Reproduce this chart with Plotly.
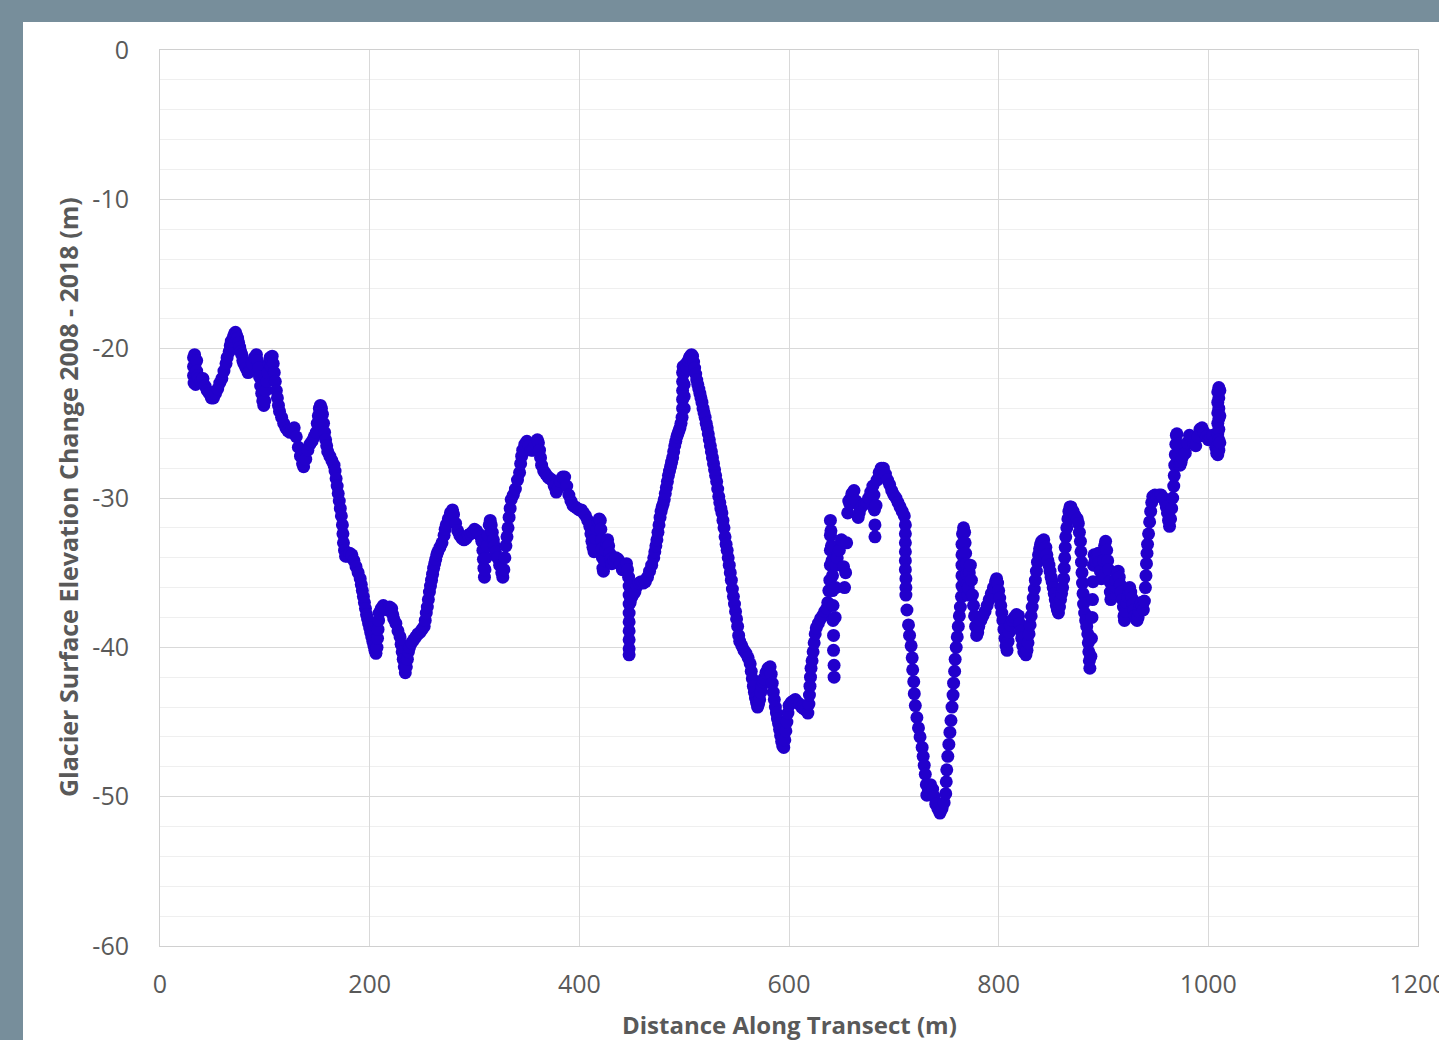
import plotly.graph_objects as go

# ---- data (distance m, elevation change m) ----
seg_a = [(32,-20.6),(32,-21.2),(32,-21.8),(32.5,-22.3),(33,-20.4),(33.5,-21.0),(34,-21.6),(34,-22.4),
 (35,-20.8),(35,-21.5),(36,-21.8),(37,-22.0),(39,-22.2),(41,-22.0),(43,-22.5),(45,-22.8),(47,-23.0),
 (49,-23.3),(51,-23.3),(53,-23.0),(55,-22.7),(57,-22.3),(59,-22.0),(61,-21.5),(63,-21.0),(64,-20.6),
 (66,-20.2),(67,-19.8),(68,-19.5),(70,-19.2),(71,-19.0),(72,-18.9),(73,-19.1),(74,-19.3),(75,-19.6),
 (76,-19.9),(77,-20.2),(78,-20.4),(79,-20.8),(80,-21.0),(82,-21.3),(84,-21.6),(86,-21.5),(88,-21.0),
 (90,-20.6),(92,-20.4),(93,-20.8),(94,-21.3),(95,-21.9),(96,-22.5),(97,-23.0),(98,-23.5),(99,-23.8),
 (100,-23.5),(101,-22.8),(102,-22.2),(103,-21.6),(104,-21.0),(105,-20.6),(106,-21.2),(107,-20.5),
 (108,-21.0),(109,-21.6),(110,-22.2),(111,-22.8),(112,-23.3),(113,-23.8),(114,-24.2),(116,-24.6),
 (118,-25.0),(120,-25.3),(122,-25.5),(124,-25.6),(126,-25.4),(128,-25.3),(130,-25.9),(132,-26.6),
 (134,-27.2),(136,-27.7),(137,-27.9),(139,-27.4),(141,-26.8),(143,-26.4),(145,-26.2),(147,-25.9),
 (149,-25.6),(150,-25.0),(151,-24.5),(152,-24.0),(153,-23.8),(154,-24.0),(155,-24.4),(156,-25.0),
 (157,-25.6),(158,-26.1),(159,-26.5),(160,-26.9),(162,-27.2),(164,-27.5),(166,-27.8),(167,-28.2),
 (168,-28.7),(169,-29.2),(170,-29.7),(171,-30.2),(172,-30.7),(173,-31.2),(174,-31.8),(174.5,-32.4),
 (175,-33.0),(176,-33.5),(177,-33.9),(179,-33.9),(181,-33.7),(183,-33.8),(185,-34.2),(187,-34.6),
 (189,-35.0),(191,-35.4),(192,-35.8),(193,-36.2),(194,-36.6),(195,-37.0),(196,-37.4),(197,-37.8),
 (198,-38.1),(199,-38.4)]

seg_b = [(200,-38.7),(201,-39.0),(202,-39.3),(203,-39.6),(204,-39.9),(205,-40.2),(206,-40.4),(207,-40.0),
 (207.5,-39.4),(208,-38.8),(208.5,-38.2),(209,-37.7),(211,-37.4),(213,-37.2),(215,-37.4),(217,-37.5),
 (219,-37.3),(221,-37.4),(222,-37.8),(223,-38.1),(225,-38.4),(227,-38.9),(229,-39.3),(230,-39.8),
 (231,-40.3),(232,-40.8),(233,-41.3),(234,-41.7),(235,-41.3),(236,-40.8),(237,-40.3),(238,-40.0),
 (240,-39.7),(242,-39.5),(244,-39.3),(246,-39.1),(248,-39.0),(250,-38.8),(252,-38.6),(253,-38.2),
 (254,-37.7),(255,-37.3),(256,-36.8),(257,-36.3),(258,-35.9),(259,-35.5),(260,-35.1),(261,-34.7),
 (262,-34.4),(263,-34.1),(264,-33.8),(265,-33.6),(267,-33.3),(269,-33.0),(271,-32.5),(272,-32.1),
 (273,-31.8),(275,-31.4),(277,-31.0),(279,-30.8),(280,-31.1),(282,-31.7),(284,-32.2),(286,-32.5),
 (288,-32.7),(290,-32.8),(292,-32.7),(294,-32.5),(296,-32.4),(298,-32.3),(300,-32.1),(302,-32.2),
 (304,-32.4),(306,-32.6),(307,-32.9),(308,-33.5),(308.5,-34.1),(309,-34.7),(309.5,-35.3),(310,-34.8),
 (311,-34.0),(312,-33.2),(313,-32.5),(314,-31.8),(315,-31.5),(316,-31.8),(317,-32.3),(318,-32.8),
 (319,-33.2),(320,-33.6),(322,-34.0),(324,-34.5),(326,-35.0),(327,-35.3),(328,-34.8),(329,-34.0),
 (330,-33.2),(331,-32.6),(332,-32.0),(333,-31.3),(334,-30.7),(335,-30.1),(337,-29.8),(339,-29.4),
 (341,-28.8),(343,-28.3),(344,-27.7),(345,-27.2),(346,-26.8),(348,-26.4),(350,-26.2),(352,-26.5),
 (354,-26.8),(356,-26.8),(358,-26.4),(360,-26.1),(361,-26.3),(362,-26.8),(363,-27.3),(364,-27.8),
 (366,-28.2),(368,-28.4),(370,-28.6),(372,-28.7),(374,-28.8),(376,-29.2),(378,-29.6),(380,-29.3),
 (382,-28.9),(384,-28.6),(386,-28.6),(388,-29.2),(390,-29.8),(392,-30.2),(394,-30.5),(396,-30.6),
 (398,-30.7)]

seg_c = [(400,-30.8),(402,-30.8),(404,-31.0),(406,-31.2),(408,-31.5),(410,-31.9),(411,-32.4),(412,-32.9),
 (413,-33.3),(414,-33.6),(415,-33.3),(416,-32.7),(417,-32.1),(418,-31.6),(419,-31.4),(420,-31.5),
 (420.5,-32.1),(421,-32.8),(421.5,-33.4),(422,-34.0),(422.5,-34.7),(423,-34.9),(424,-34.2),(425,-33.5),
 (426,-33.0),(427,-32.8),(428,-33.2),(429,-33.7),(430,-34.1),(431,-34.4),(433,-34.2),(435,-34.0),
 (437,-34.1),(439,-34.4),(441,-34.8),(443,-34.6),(445,-34.4),(446,-34.8),(447,-35.3),(447.5,-35.9),
 (447.5,-36.5),(447.5,-37.1),(447.5,-37.7),(447.5,-38.3),(447.5,-38.9),(447.5,-39.5),(447.5,-40.1),
 (447.5,-40.5),(448.5,-37.0),(449.5,-36.7),(451,-36.5),(453,-36.3),(455,-35.9),(457,-35.7),(459,-35.6),
 (461,-35.7),(463,-35.6),(465,-35.3),(467,-34.9),(469,-34.5),(471,-34.0),(472,-33.6),(473,-33.2),
 (474,-32.8),(475,-32.3),(476,-31.8),(477,-31.3),(478,-30.9),(479,-30.6),(480,-30.4),(481,-30.1),
 (482,-29.7),(483,-29.3),(484,-28.9),(485,-28.5),(486,-28.2),(487,-27.9),(488,-27.6),(489,-27.3),
 (490,-26.9),(491,-26.5),(492,-26.2),(493,-25.9),(494,-25.7),(495,-25.5),(496,-25.3),(497,-25.0),
 (498,-24.6),(498.5,-24.0),(498.5,-23.4),(498.5,-22.8),(498.5,-22.2),(498.5,-21.6),(499,-21.2),
 (500,-21.6),(500,-22.4),(500,-23.2),(500,-24.0),(501,-21.4),(502,-21.0),(503,-21.3),(504,-20.8),
 (505,-20.6),(506,-20.5),(507,-20.4),(508,-20.5),(509,-20.9),(510,-21.3),(511,-21.7),(512,-22.1),
 (513,-22.4),(514,-22.7),(515,-23.0),(516,-23.3),(517,-23.6),(518,-24.0),(519,-24.3),(520,-24.6),
 (521,-25.0),(522,-25.3),(523,-25.7),(524,-26.1),(525,-26.5),(526,-26.9),(527,-27.3),(528,-27.7),
 (529,-28.1),(530,-28.5),(531,-28.9),(532,-29.4),(533,-29.9),(534,-30.3),(535,-30.7),(536,-31.0),
 (537,-31.5),(538,-32.0),(539,-32.6),(540,-33.1),(541,-33.5),(542,-34.0),(543,-34.5),(544,-35.0),
 (545,-35.5),(546,-36.1),(547,-36.6),(548,-37.1),(549,-37.6),(550,-38.1),(551,-38.6),(552,-39.2),
 (553,-39.6),(555,-39.9),(557,-40.2),(559,-40.4),(561,-40.7),(563,-41.1),(564,-41.6),(565,-42.1),
 (566,-42.6),(567,-43.0),(568,-43.4),(569,-43.7),(570,-44.0),(571,-43.8),(572,-43.5),(573,-43.0),
 (574,-42.6),(575,-42.3),(576,-42.1),(578,-41.7),(580,-41.4),(582,-41.3),(583,-41.8),(584,-42.4),
 (585,-43.0),(586,-43.5),(587,-44.0),(588,-44.4),(589,-44.8),(590,-45.1),(591,-45.5),(592,-45.9),
 (593,-46.3),(594,-46.6),(595,-46.7),(596,-46.2),(597,-45.6),(598,-45.0),(599,-44.4)]

seg_d = [(600,-43.9),(602,-43.7),(604,-43.6),(606,-43.5),(608,-43.7),(610,-43.8),(612,-44.0),(614,-44.1),
 (616,-44.2),(618,-44.4),(619,-43.8),(619.5,-43.2),(620,-42.6),(620.5,-42.0),(621,-41.4),(622,-40.9),
 (623,-40.3),(624,-39.7),(625,-39.1),(626,-38.7),(628,-38.4),(630,-38.1),(632,-37.9),(634,-37.6),
 (636,-37.4),(637,-37.0),(638,-36.2),(639,-35.5),(639.5,-34.5),(639.5,-33.5),(639.5,-32.5),(639.5,-31.5),
 (640,-32.2),(640.5,-33.2),(641,-34.2),(641.5,-35.2),(641.5,-36.2),(642,-37.2),(642,-38.2),(642.5,-39.2),
 (642.5,-40.2),(643,-41.2),(643,-42.0),(644,-38.0),(644.5,-36.0),(645,-34.5),(646,-34.0),(648,-33.5),
 (650,-32.8),(652,-34.6),(653,-36.0),(654,-35.0),(655,-33.0),(656,-31.0),(657,-30.2),(658,-30.4),
 (659,-30.0),(660,-29.7),(662,-29.5),(664,-30.2),(666,-31.3),(667,-31.0),(668,-30.7),(670,-30.5),
 (672,-30.4),(674,-30.3),(676,-30.0),(678,-29.6),(680,-29.2),(681,-29.8),(681.5,-30.8),(682,-31.8),
 (682,-32.6),(683,-30.5),(684,-28.8),(686,-28.3),(688,-28.0),(690,-28.0),(692,-28.4),(694,-28.8),
 (696,-29.1),(698,-29.5),(700,-29.8),(702,-30.0),(704,-30.3),(706,-30.6),(708,-30.9),(710,-31.2),
 (711,-31.8),(711,-32.4),(711,-33.0),(711,-33.6),(711,-34.2),(711,-34.8),(711.5,-35.4),(711.5,-36.0),
 (711.5,-36.5),(712.5,-37.5),(714,-38.5),(715,-39.2),(716.5,-39.9),(717.5,-40.7),(718,-41.5),
 (719,-42.3),(719.5,-43.1),(720.5,-43.9),(722,-44.7),(723.5,-45.4),(725,-46.0),(727,-46.7),(728,-47.3),
 (729,-47.9),(730,-48.5),(731,-49.2),(731.5,-49.9),(733,-49.6),(735,-49.2),(737,-49.5),(738.5,-50.0),
 (740,-50.5),(742,-50.8),(744,-51.1),(746,-50.8),(748,-50.4),(749.5,-49.8),(750,-49.0),(750.5,-48.2),
 (751.5,-47.3),(752.5,-46.5),(753.5,-45.7),(754.5,-44.9),(755.5,-44.0),(756.5,-43.2),(757,-42.4),
 (758,-41.6),(758.5,-40.8),(759.5,-40.0),(760.5,-39.3),(761.5,-38.6),(762.5,-37.9),(763.5,-37.3),
 (764.5,-36.6),(765,-35.9),(765,-35.2),(765,-34.5),(765,-33.8),(765,-33.1),(765.5,-32.4),(766.5,-32.0),
 (767.5,-32.3),(768,-33.0),(768.5,-33.7),(769,-34.4),(769.5,-35.1),(770,-35.8),(770.5,-36.5),
 (771,-36.0),(772,-35.0),(773,-34.5),(774,-35.5),(775,-36.5),(776,-37.2),(777,-37.9),(778,-38.6),
 (779,-39.2),(780,-39.0),(781,-38.6),(783,-38.2),(785,-37.9),(787,-37.6),(789,-37.2),(791,-36.8),
 (793,-36.4),(795,-36.0),(797,-35.6),(798,-35.4),(799,-35.7)]

seg_e = [(800,-36.2),(801,-36.7),(802,-37.2),(803,-37.7),(804,-38.2),(805,-38.8),(806,-39.4),(807,-39.9),
 (808,-40.2),(809,-39.6),(810,-39.0),(811,-38.5),(813,-38.2),(815,-38.0),(817,-37.8),(819,-37.9),
 (820,-38.4),(821,-38.9),(822,-39.4),(823,-39.9),(824,-40.3),(826,-40.5),(827,-40.2),(828,-39.7),
 (829,-39.1),(830,-38.5),(831,-37.9),(832,-37.3),(833,-36.7),(834,-36.1),(835,-35.5),(836,-34.9),
 (837,-34.3),(838,-33.8),(839,-33.4),(840,-33.1),(841,-32.9),(843,-32.8),(845,-33.3),(846,-33.8),
 (847,-34.2),(848,-34.5),(849,-34.9),(850,-35.3),(851,-35.6),(852,-36.0),(853,-36.4),(854,-36.8),
 (855,-37.2),(856,-37.5),(857,-37.7),(858,-37.3),(859,-36.8),(860,-36.4),(861,-36.0),(862,-35.4),
 (862.5,-34.7),(863,-34.0),(863.5,-33.3),(864,-32.6),(865,-32.0),(866,-31.4),(867,-30.9),(868,-30.6),
 (869,-30.6),(871,-30.9),(873,-31.2),(875,-31.4),(876,-31.7),(877,-32.3),(878,-32.9),(878.5,-33.6),
 (879,-34.3),(879.5,-35.0),(880,-35.7),(880.5,-36.4),(881,-37.1),(882,-37.7),(883,-38.2),(884,-38.6),
 (885,-39.1),(885.5,-39.7),(886,-40.3),(886.5,-40.9),(887,-41.4),(888,-40.6),(888.5,-39.4),(889,-38.0),
 (889.5,-36.8),(890,-35.6),(890.5,-34.5),(891,-33.8),(892,-34.2),(894,-33.8),(895,-33.7),(896,-34.3),
 (897,-34.9),(898,-35.4),(899,-35.2),(900,-34.2),(901,-33.2),(902,-32.9),(903,-33.5),(904,-34.2),
 (905,-34.8),(906,-35.6),(906.5,-36.3),(907,-36.8),(908,-36.4),(909,-36.0),(910,-35.8),(911,-35.9),
 (912,-35.5),(913,-35.1),(914,-34.9),(915,-35.3),(916,-35.8),(917,-36.3),(918,-36.8),(919,-37.3),
 (919.5,-37.9),(920,-38.2),(921,-37.6),(922,-37.0),(923,-36.6),(924,-36.2),(925,-36.0),(926,-36.3),
 (927,-36.7),(928,-37.1),(929,-37.5),(930,-37.9),(931,-38.1),(932,-38.2),(933,-38.0),(934,-37.6),
 (935,-37.2),(936,-37.0),(937,-37.3),(938,-37.5),(939,-36.9),(940,-36.0),(940.5,-35.2),(941,-34.4),
 (941.5,-33.7),(942,-33.1),(943,-32.4),(944,-31.6),(945,-30.9),(946,-30.3),(947,-29.9),(949,-29.8),
 (951,-29.9),(953,-29.8),(955,-29.8),(957,-30.0),(959,-30.3),(960,-30.6),(961,-31.0),(962,-31.5),
 (963,-31.9),(964,-31.4),(965,-30.7),(966,-30.0),(967,-29.2),(967.5,-28.5),(968,-27.8),(968.5,-27.1),
 (969,-26.4),(969.5,-25.8),(970,-25.7),(971,-26.4),(972,-27.1),(973,-27.8),(974,-27.6),(975,-27.3),
 (976,-27.1),(978,-27.0),(980,-26.3),(982,-25.8),(984,-26.0),(986,-26.4),(988,-26.5),(990,-25.9),
 (992,-25.4),(994,-25.3),(996,-25.6),(998,-25.9),(1000,-26.1),(1002,-26.0),(1004,-25.8),(1006,-26.2),
 (1007,-26.6),(1008,-27.0),(1009,-27.1),(1009,-26.4),(1009,-25.7),(1009,-25.0),(1009,-24.3),
 (1009,-23.6),(1009,-22.9),(1010,-22.6),(1010,-23.3),(1010,-24.0),(1010,-24.7),(1010,-25.4),
 (1010,-26.1),(1010,-26.8),(1011,-22.8),(1011,-24.5),(1011,-26.3)]

x_ticks = [0, 200, 400, 600, 800, 1000, 1200]
y_ticks = [0, -10, -20, -30, -40, -50, -60]
x_title = "Distance Along Transect (m)"
y_title = "Glacier Surface Elevation Change 2008 - 2018 (m)"

points = seg_a + seg_b + seg_c + seg_d + seg_e
distance_m = [p[0] for p in points]
elev_change_m = [p[1] for p in points]

TXT = "#595959"
FONT = "Open Sans"

fig = go.Figure()
fig.add_trace(go.Scatter(
    x=distance_m, y=elev_change_m, mode="markers",
    marker=dict(size=13, color="#2200CC", line=dict(width=0)),
    showlegend=False, hoverinfo="x+y"))

# plot area: px x 160..1418, y 50..946
L, R, T, B = 160, 21, 50, 94
W, H = 1439, 1040
pw, ph = W - L - R, H - T - B

def px2paper_x(px):
    return (px - L) / pw

def px2paper_y(py):
    return (H - B - py) / ph

fig.add_shape(type="rect", xref="paper", yref="paper",
              x0=px2paper_x(23), x1=px2paper_x(1460), y0=px2paper_y(1060), y1=px2paper_y(22),
              fillcolor="white", line=dict(width=0), layer="below")

fig.update_layout(
    width=W, height=H,
    margin=dict(l=L, r=R, t=T, b=B, pad=0, autoexpand=False),
    paper_bgcolor="#778e9b", plot_bgcolor="white",
    font=dict(family=FONT, color=TXT),
    showlegend=False,
    annotations=[
        dict(text="<b>%s</b>" % x_title, xref="paper", yref="paper",
             x=px2paper_x(789), y=px2paper_y(1024), xanchor="center", yanchor="middle",
             showarrow=False, font=dict(size=24, color=TXT, family=FONT)),
        dict(text="<b>%s</b>" % y_title, xref="paper", yref="paper",
             x=px2paper_x(68), y=px2paper_y(497), xanchor="center", yanchor="middle",
             textangle=-90, showarrow=False, font=dict(size=25, color=TXT, family=FONT)),
    ],
)
fig.update_xaxes(range=[0, 1200], tickmode="array", tickvals=x_ticks,
                 ticktext=[str(v) for v in x_ticks], automargin=False,
                 showgrid=True, gridcolor="#d9d9d9", gridwidth=1, zeroline=False,
                 showline=True, linecolor="#d0d0d0", linewidth=1, mirror=True,
                 ticks="", ticklabelstandoff=16, ticklabeloverflow="allow",
                 tickfont=dict(size=25, color=TXT, family=FONT))
fig.update_yaxes(range=[-60, 0], tickmode="array", tickvals=y_ticks,
                 ticktext=[str(v) for v in y_ticks], automargin=False,
                 showgrid=True, gridcolor="#d9d9d9", gridwidth=1, zeroline=False,
                 showline=True, linecolor="#d0d0d0", linewidth=1, mirror=True,
                 ticks="", ticklabelstandoff=25, ticklabeloverflow="allow",
                 minor=dict(dtick=2, showgrid=True, gridcolor="#efefef", gridwidth=1),
                 tickfont=dict(size=25, color=TXT, family=FONT))

fig.write_html("out.html", config={"displayModeBar": False},
               post_script="document.body.style.margin='0';document.body.style.overflow='hidden';")
